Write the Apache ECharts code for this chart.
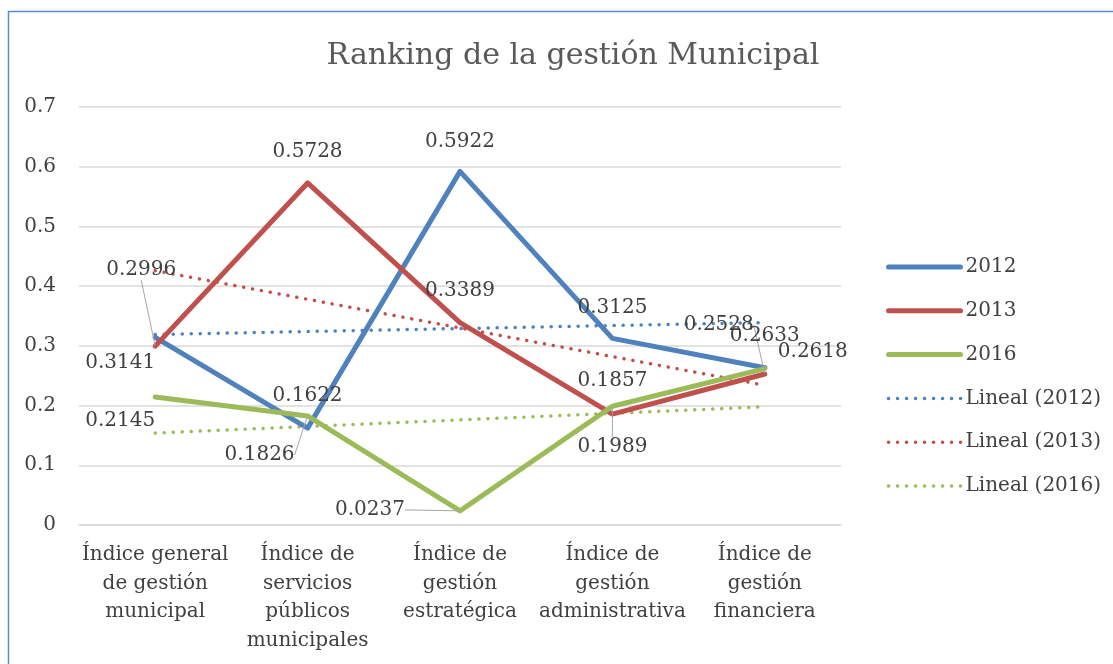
<!DOCTYPE html>
<html>
<head>
<meta charset="utf-8">
<script src="https://cdn.jsdelivr.net/npm/echarts@6/dist/echarts.min.js"></script>
<style>
html,body{margin:0;padding:0;background:#fff;}
#chart{width:1113px;height:664px;}
</style>
</head>
<body>
<div id="chart"></div>
<script>
// ---- data ----
const title = 'Ranking de la gestión Municipal';
const categories = [
  'Índice general\nde gestión\nmunicipal',
  'Índice de\nservicios\npúblicos\nmunicipales',
  'Índice de\ngestión\nestratégica',
  'Índice de\ngestión\nadministrativa',
  'Índice de\ngestión\nfinanciera'
];
const yTicks = [0, 0.1, 0.2, 0.3, 0.4, 0.5, 0.6, 0.7];
const names = ['2012', '2013', '2016'];
const v2012 = [0.3141, 0.1622, 0.5922, 0.3125, 0.2633];
const v2013 = [0.2996, 0.5728, 0.3389, 0.1857, 0.2528];
const v2016 = [0.2145, 0.1826, 0.0237, 0.1989, 0.2618];
// trend lines, endpoints
const t2012 = [0.319, null, null, null, 0.339];
const t2013 = [0.426, null, null, null, 0.234];
const t2016 = [0.154, null, null, null, 0.198];

// ---- style ----
const colors = ['#4f81bd', '#c0504d', '#9bbb59'];
const font = 'DejaVu Serif';
const textColor = '#404040';
const solidWidth = 5;
const dotStyle = { width: 3.5, type: [0.1, 8.9], cap: 'round' };
// label offsets (dx, dy from point) and leader-line flags
const labelOffsets = [
  [[-35, 25], [0, -32], [0, -30], [0, -31], [0, -32]],
  [[-14, -76], [0, -31], [0, -32], [0, -33], [-46, -49]],
  [[-35, 24], [-48, 39], [-90, -1], [0, 41], [48, -17]]
];
const leaders = [
  [false, false, false, false, false],
  [true, false, false, false, true],
  [false, true, true, true, false]
];

const values = [v2012, v2013, v2016];
const trends = [t2012, t2013, t2016];

const series = [];
values.forEach((vals, si) => {
  series.push({
    name: names[si],
    type: 'line',
    data: vals.map((v, i) => ({
      value: v,
      labelLine: { show: leaders[si][i], lineStyle: { color: '#a6a6a6', width: 1 } }
    })),
    symbol: 'circle',
    symbolSize: 1,
    showSymbol: true,
    itemStyle: { color: colors[si] },
    lineStyle: { width: solidWidth, color: colors[si], cap: 'round', join: 'round' },
    label: {
      show: true,
      position: 'inside',
      fontFamily: font,
      fontSize: 20,
      color: textColor,
      formatter: p => p.value.toFixed(4)
    },
    labelLayout: function (params) {
      const o = labelOffsets[si][params.dataIndex];
      return { dx: o[0], dy: o[1] };
    },
    emphasis: { disabled: true },
    z: 3
  });
});
trends.forEach((vals, si) => {
  series.push({
    name: 'Lineal (' + names[si] + ')',
    type: 'line',
    data: vals,
    connectNulls: true,
    symbol: 'circle',
    symbolSize: 1,
    showSymbol: false,
    itemStyle: { color: colors[si] },
    lineStyle: Object.assign({ color: colors[si] }, dotStyle),
    emphasis: { disabled: true },
    z: 2
  });
});

const legendData = names.map((n, i) => ({
  name: n,
  lineStyle: { width: solidWidth, color: colors[i], cap: 'round', type: 'solid' }
})).concat(names.map((n, i) => ({
  name: 'Lineal (' + n + ')',
  lineStyle: Object.assign({ color: colors[i] }, dotStyle)
})));

const chart = echarts.init(document.getElementById('chart'), null, { renderer: 'canvas' });
chart.setOption({
  animation: false,
  backgroundColor: '#ffffff',
  title: {
    text: title,
    left: 568,
    textAlign: 'center',
    top: 36,
    textStyle: { fontFamily: font, fontSize: 30, fontWeight: 'normal', color: '#595959' }
  },
  graphic: [{
    type: 'rect',
    shape: { x: 8.5, y: 11.5, width: 1200, height: 800 },
    style: { fill: 'none', stroke: '#5b8bcf', lineWidth: 1.5 },
    silent: true
  }],
  legend: {
    orient: 'vertical',
    left: 881,
    top: 252,
    itemWidth: 72,
    itemHeight: 20,
    itemGap: 23.8,
    data: legendData,
    itemStyle: { opacity: 0 },
    textStyle: { fontFamily: font, fontSize: 20, color: textColor },
    selectedMode: false
  },
  grid: { left: 79, right: 1113 - 841, top: 107, bottom: 664 - 525, containLabel: false },
  xAxis: {
    type: 'category',
    data: categories,
    boundaryGap: true,
    axisLine: { show: true, lineStyle: { color: '#d9d9d9', width: 1.5 } },
    axisTick: { show: false },
    axisLabel: {
      interval: 0,
      margin: 16,
      fontFamily: font,
      fontSize: 20,
      lineHeight: 28.5,
      color: textColor,
      align: 'center'
    }
  },
  yAxis: {
    type: 'value',
    min: yTicks[0],
    max: yTicks[yTicks.length - 1],
    interval: 0.1,
    axisLine: { show: false },
    axisTick: { show: false },
    splitLine: { lineStyle: { color: '#d9d9d9', width: 1.5 } },
    axisLabel: {
      margin: 23,
      fontFamily: font,
      fontSize: 20,
      color: textColor,
      formatter: v => String(Math.round(v * 10) / 10)
    }
  },
  series: series
});
</script>
</body>
</html>
